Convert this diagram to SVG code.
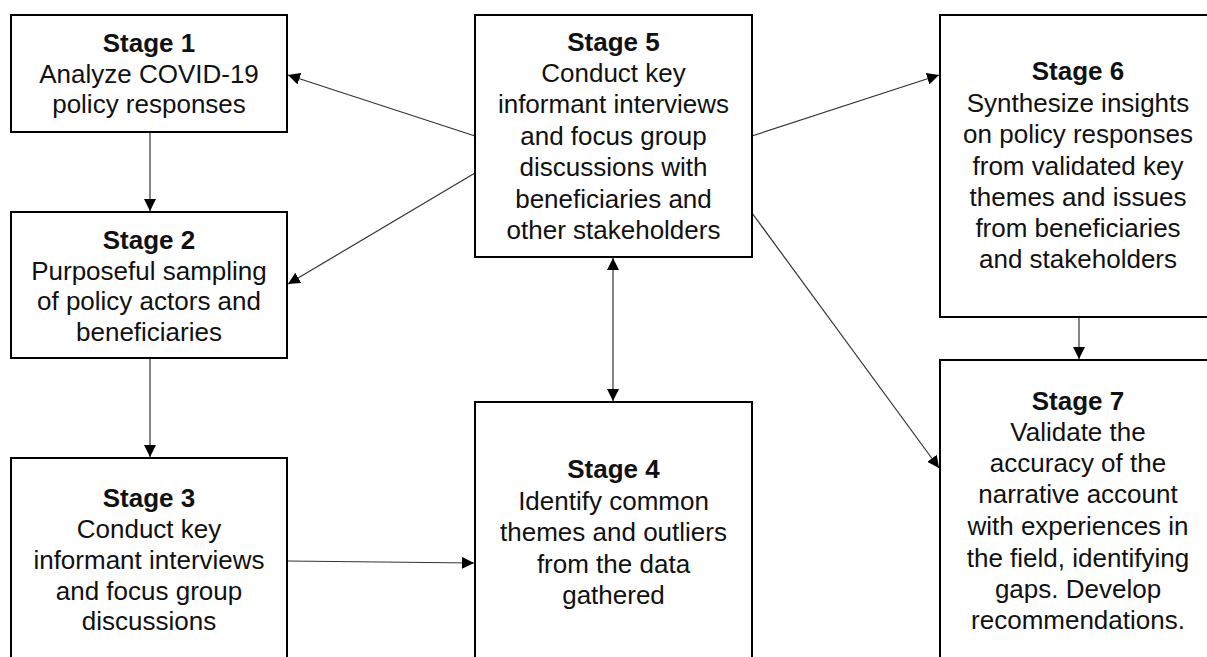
<svg xmlns="http://www.w3.org/2000/svg" width="1207" height="657" viewBox="0 0 1207 657">
<style>
.box{fill:#fff;stroke:#000;stroke-width:2}
.t{font-family:"Liberation Sans",Arial,sans-serif;font-size:26px;fill:#111;text-anchor:middle}
.b{font-weight:bold}
.c{stroke:#333;stroke-width:1.2;fill:none}
</style>
<defs>
<marker id="ah" viewBox="0 0 12 12" refX="12" refY="6" markerWidth="12" markerHeight="12" markerUnits="userSpaceOnUse" orient="auto-start-reverse">
<path d="M0,0 L12,6 L0,12 z" fill="#000"/>
</marker>
</defs>
<rect width="1207" height="657" fill="#fff"/>
<g id="connectors">
<line class="c" x1="150" y1="132" x2="150" y2="211" marker-end="url(#ah)"/>
<line class="c" x1="150" y1="358" x2="150" y2="457" marker-end="url(#ah)"/>
<line class="c" x1="287" y1="561" x2="474" y2="563" marker-end="url(#ah)"/>
<line class="c" x1="613" y1="258" x2="613" y2="401" marker-start="url(#ah)" marker-end="url(#ah)"/>
<line class="c" x1="475" y1="136" x2="288" y2="75" marker-end="url(#ah)"/>
<line class="c" x1="475" y1="173" x2="288" y2="284" marker-end="url(#ah)"/>
<line class="c" x1="752" y1="136" x2="939" y2="75" marker-end="url(#ah)"/>
<line class="c" x1="752" y1="213" x2="939" y2="468" marker-end="url(#ah)"/>
<line class="c" x1="1079" y1="317" x2="1079" y2="359" marker-end="url(#ah)"/>
</g>
<g id="stage1">
<rect class="box" x="11" y="15" width="276" height="117"/>
<text class="t b" x="149" y="52">Stage 1</text>
<text class="t" x="149" y="83">Analyze COVID-19</text>
<text class="t" x="149" y="113">policy responses</text>
</g>
<g id="stage2">
<rect class="box" x="11" y="212" width="276" height="146"/>
<text class="t b" x="149" y="249">Stage 2</text>
<text class="t" x="149" y="280">Purposeful sampling</text>
<text class="t" x="149" y="310">of policy actors and</text>
<text class="t" x="149" y="341">beneficiaries</text>
</g>
<g id="stage3">
<rect class="box" x="11" y="458" width="276" height="220"/>
<text class="t b" x="149" y="507">Stage 3</text>
<text class="t" x="149" y="538">Conduct key</text>
<text class="t" x="149" y="569">informant interviews</text>
<text class="t" x="149" y="600">and focus group</text>
<text class="t" x="149" y="630">discussions</text>
</g>
<g id="stage4">
<rect class="box" x="475" y="402" width="277" height="276"/>
<text class="t b" x="613.5" y="478">Stage 4</text>
<text class="t" x="613.5" y="510">Identify common</text>
<text class="t" x="613.5" y="541">themes and outliers</text>
<text class="t" x="613.5" y="573">from the data</text>
<text class="t" x="613.5" y="604">gathered</text>
</g>
<g id="stage5">
<rect class="box" x="475" y="15" width="277" height="242"/>
<text class="t b" x="613.5" y="51">Stage 5</text>
<text class="t" x="613.5" y="82">Conduct key</text>
<text class="t" x="613.5" y="113">informant interviews</text>
<text class="t" x="613.5" y="145">and focus group</text>
<text class="t" x="613.5" y="176">discussions with</text>
<text class="t" x="613.5" y="208">beneficiaries and</text>
<text class="t" x="613.5" y="239">other stakeholders</text>
</g>
<g id="stage6">
<rect class="box" x="940" y="15" width="276" height="302"/>
<text class="t b" x="1078" y="80">Stage 6</text>
<text class="t" x="1078" y="112">Synthesize insights</text>
<text class="t" x="1078" y="143">on policy responses</text>
<text class="t" x="1078" y="175">from validated key</text>
<text class="t" x="1078" y="206">themes and issues</text>
<text class="t" x="1078" y="237">from beneficiaries</text>
<text class="t" x="1078" y="268">and stakeholders</text>
</g>
<g id="stage7">
<rect class="box" x="940" y="360" width="276" height="318"/>
<text class="t b" x="1078" y="410">Stage 7</text>
<text class="t" x="1078" y="441">Validate the</text>
<text class="t" x="1078" y="472">accuracy of the</text>
<text class="t" x="1078" y="503">narrative account</text>
<text class="t" x="1078" y="535">with experiences in</text>
<text class="t" x="1078" y="567">the field, identifying</text>
<text class="t" x="1078" y="598">gaps. Develop</text>
<text class="t" x="1078" y="629">recommendations.</text>
</g>
</svg>
